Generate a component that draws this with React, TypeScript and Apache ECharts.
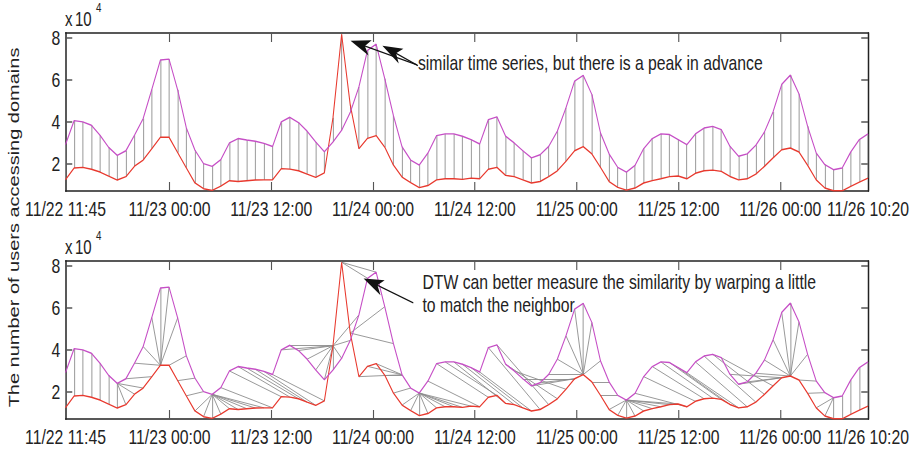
import React, { useEffect, useRef } from "react";
import * as echarts from "echarts";

// ---------- data (x 10^4 users), one sample per step from 11/22 11:45 to 11/26 10:20 ----------
const PURPLE = [
  2.92, 4.06, 4.0, 3.84, 3.37, 2.79, 2.41, 2.63, 3.37, 4.16,
  5.54, 6.94, 6.98, 5.52, 3.72, 2.66, 2.02, 1.89, 2.21, 3.0,
  3.21, 3.14, 3.08, 2.98, 2.83, 4.0, 4.22, 3.97, 3.56, 3.05,
  2.58, 3.05, 3.6, 4.45, 5.66, 7.4, 7.69, 6.05, 4.3, 2.82,
  2.19, 1.95, 2.52, 3.35, 3.43, 3.43, 3.32, 3.16, 2.95, 4.11,
  4.24, 3.32, 3.0, 2.63, 2.29, 2.44, 2.84, 3.56, 4.67, 5.94,
  6.21, 5.3, 3.48, 2.48, 1.84, 1.62, 1.94, 2.73, 3.21, 3.43,
  3.4, 3.16, 2.92, 3.43, 3.71, 3.79, 3.63, 2.84, 2.37, 2.48,
  2.89, 3.52, 4.48, 5.78, 6.22, 5.33, 3.79, 2.52, 1.97, 1.73,
  1.81, 2.57, 3.16, 3.43,
];
const RED = [
  1.25, 1.81, 1.84, 1.75, 1.62, 1.43, 1.24, 1.4, 1.9, 2.19,
  2.73, 3.27, 3.27, 2.54, 1.82, 1.1, 0.83, 0.75, 0.95, 1.21,
  1.17, 1.21, 1.24, 1.25, 1.25, 1.78, 1.76, 1.68, 1.52, 1.37,
  1.58, 4.2, 8.16, 4.8, 2.73, 3.22, 3.35, 2.8, 1.95, 1.38,
  1.12, 0.88, 0.98, 1.25, 1.3, 1.3, 1.27, 1.33, 1.3, 1.75,
  1.84, 1.46, 1.4, 1.25, 1.1, 1.17, 1.4, 1.68, 2.13, 2.63,
  2.83, 2.48, 1.84, 1.17, 0.89, 0.76, 0.86, 1.1, 1.21, 1.3,
  1.4, 1.43, 1.3, 1.56, 1.68, 1.71, 1.65, 1.41, 1.25, 1.3,
  1.52, 1.89, 2.29, 2.68, 2.76, 2.57, 1.94, 1.25, 0.86, 0.73,
  0.73, 0.94, 1.14, 1.33,
];

// hours counted from 11/22 00:00
const START_H = 11.75;
const END_H = 106 + 20 / 60;
const TICK_HOURS = [11.75, 24, 36, 48, 60, 72, 84, 96, 106 + 20 / 60];
const TICK_LABELS = [
  "11/22 11:45", "11/23 00:00", "11/23 12:00", "11/24 00:00", "11/24 12:00",
  "11/25 00:00", "11/25 12:00", "11/26 00:00", "11/26 10:20",
];
const Y_TICKS = [2, 4, 6, 8];
const Y_MIN = 0.72;
const Y_MAX = 8.22;
const DTW_WINDOW = 6; // warping band, in samples

const Y_TITLE = "The number of users accessing domains";
const NOTE_TOP = "similar time series, but there is a peak in advance";
const NOTE_BOTTOM_1 = "DTW can better measure the similarity by warping a little";
const NOTE_BOTTOM_2 = "to match the neighbor";

// annotation arrows: [tail, head] in data coordinates (hours, x10^4)
const ARROWS_TOP = [
  [[53.18, 6.71], [46.5, 7.68]],
  [[53.29, 6.67], [50.2, 7.37]],
];
const ARROWS_BOTTOM = [[[52.74, 6.23], [48.0, 7.17]]];

// ---------- helpers ----------
const STEP = (END_H - START_H) / (PURPLE.length - 1);
const TIMES = PURPLE.map((_, i) => START_H + i * STEP);

function dtwPath(a: number[], b: number[], w: number): [number, number][] {
  const n = a.length;
  const m = b.length;
  const D: number[][] = Array.from({ length: n }, () => new Array(m).fill(Infinity));
  for (let i = 0; i < n; i++) {
    for (let j = Math.max(0, i - w); j <= Math.min(m - 1, i + w); j++) {
      const c = Math.abs(a[i] - b[j]);
      if (i === 0 && j === 0) {
        D[i][j] = c;
        continue;
      }
      const up = i > 0 ? D[i - 1][j] : Infinity;
      const left = j > 0 ? D[i][j - 1] : Infinity;
      const diag = i > 0 && j > 0 ? D[i - 1][j - 1] : Infinity;
      D[i][j] = c + Math.min(up, left, diag);
    }
  }
  let i = n - 1;
  let j = m - 1;
  const path: [number, number][] = [[i, j]];
  while (i > 0 || j > 0) {
    if (i === 0) j--;
    else if (j === 0) i--;
    else {
      const diag = D[i - 1][j - 1];
      const up = D[i - 1][j];
      const left = D[i][j - 1];
      if (diag <= up && diag <= left) {
        i--;
        j--;
      } else if (up <= left) i--;
      else j--;
    }
    path.push([i, j]);
  }
  return path.reverse();
}

const S = 0.75; // horizontal squash of the reference figure
const W = 915 / S;
const H = 452;
const U = (px: number) => px / S;
const FONT = "'Liberation Sans', Arial, Helvetica, sans-serif";
const TXT = "#222";
const PURPLE_C = "#c64fc6";
const RED_C = "#e8392e";

function xLabel(v: number) {
  const k = TICK_HOURS.findIndex((h) => Math.abs(h - v) < 1e-3);
  return k >= 0 ? TICK_LABELS[k] : "";
}

export default function App() {
  const ref = useRef<HTMLDivElement>(null);
  useEffect(() => {
    if (!ref.current) return;
    const chart = echarts.init(ref.current, null, { renderer: "svg" });

    const grids = [
      { left: U(65.5), right: W - U(868), top: 33, height: 158 },
      { left: U(65.5), right: W - U(868), top: 261, height: 158 },
    ];

    const xAxes: any[] = [];
    const yAxes: any[] = [];
    grids.forEach((_, g) => {
      const base = {
        gridIndex: g,
        type: "value",
        splitLine: { show: false },
      };
      const xt = {
        show: true,
        inside: true,
        length: 9,
        customValues: TICK_HOURS.slice(1, -1),
        lineStyle: { color: "#555", width: 1.5 },
      };
      const yt = {
        show: true,
        inside: true,
        length: 9,
        customValues: Y_TICKS,
        lineStyle: { color: "#555", width: 1.5 },
      };
      xAxes.push({
        ...base,
        min: START_H,
        max: END_H,
        position: "bottom",
        axisLine: { show: true, onZero: false, lineStyle: { color: TXT, width: 1.5 } },
        axisTick: xt,
        axisLabel: {
          customValues: TICK_HOURS,
          formatter: xLabel,
          fontSize: 21,
          fontFamily: FONT,
          color: TXT,
          margin: 7,
        },
      });
      xAxes.push({
        ...base,
        min: START_H,
        max: END_H,
        position: "top",
        axisLine: { show: true, onZero: false, lineStyle: { color: TXT, width: 1.5 } },
        axisTick: xt,
        axisLabel: { show: false },
      });
      yAxes.push({
        ...base,
        min: Y_MIN,
        max: Y_MAX,
        position: "left",
        axisLine: { show: true, onZero: false, lineStyle: { color: TXT, width: 2 } },
        axisTick: yt,
        axisLabel: {
          customValues: Y_TICKS,
          fontSize: 21,
          fontFamily: FONT,
          color: TXT,
          margin: 7,
        },
      });
      yAxes.push({
        ...base,
        min: Y_MIN,
        max: Y_MAX,
        position: "right",
        axisLine: { show: true, onZero: false, lineStyle: { color: TXT, width: 2 } },
        axisTick: yt,
        axisLabel: { show: false },
      });
    });

    const purpleData = PURPLE.map((v, i) => [TIMES[i], v]);
    const redData = RED.map((v, i) => [TIMES[i], v]);

    const straightPairs: [number, number][] = PURPLE.map((_, i) => [i, i]);
    const warpPairs = dtwPath(PURPLE, RED, DTW_WINDOW);
    const toLines = (pairs: [number, number][]) =>
      pairs.map(([i, j]) => ({ coords: [[TIMES[i], PURPLE[i]], [TIMES[j], RED[j]]] }));

    const arrowSymbol = "path://M8,0 L16,26 L8,19 L0,26 Z";
    const markArrows = (arrows: number[][][]) => ({
      silent: true,
      symbol: ["none", arrowSymbol],
      symbolSize: [16, 27],
      label: { show: false },
      lineStyle: { color: "#111", width: 1.2, type: "solid" },
      itemStyle: { color: "#111" },
      emphasis: { disabled: true },
      data: arrows.map(([a, b]) => [{ coord: a }, { coord: b }]),
    });

    const series: any[] = [];
    [straightPairs, warpPairs].forEach((pairs, g) => {
      series.push({
        type: "lines",
        coordinateSystem: "cartesian2d",
        xAxisIndex: 2 * g,
        yAxisIndex: 2 * g,
        data: toLines(pairs),
        lineStyle: { color: "#8a8a8a", width: 1, opacity: 1 },
        silent: true,
        z: 1,
      });
      series.push({
        type: "line",
        xAxisIndex: 2 * g,
        yAxisIndex: 2 * g,
        data: purpleData,
        showSymbol: false,
        lineStyle: { color: PURPLE_C, width: 1.4 },
        itemStyle: { color: PURPLE_C },
        silent: true,
        z: 3,
        markLine: markArrows(g === 0 ? ARROWS_TOP : ARROWS_BOTTOM),
      });
      series.push({
        type: "line",
        xAxisIndex: 2 * g,
        yAxisIndex: 2 * g,
        data: redData,
        showSymbol: false,
        lineStyle: { color: RED_C, width: 1.4 },
        itemStyle: { color: RED_C },
        silent: true,
        z: 2,
      });
    });

    const txt = (text: string, x: number, y: number, size: number, extra: any = {}) => ({
      type: "text",
      x,
      y,
      silent: true,
      ...extra,
      style: {
        text,
        fontSize: size,
        fontFamily: FONT,
        fill: TXT,
        align: "left",
        verticalAlign: "middle",
        ...(extra.style || {}),
      },
    });

    const graphic: any[] = [
      txt(Y_TITLE, U(13.5), 227.5, 20, {
        rotation: Math.PI / 2,
        style: { align: "center", verticalAlign: "middle" },
      }),
      txt("x", U(65), 19, 20),
      txt("10", U(75), 19, 20),
      txt("4", U(96), 7.5, 13),
      txt("x", U(65), 247, 20),
      txt("10", U(75), 247, 20),
      txt("4", U(96), 235.5, 13),
      txt(NOTE_TOP, U(418), 63, 21),
      txt(NOTE_BOTTOM_1, U(422.5), 281.5, 21),
      txt(NOTE_BOTTOM_2, U(422.5), 305, 21),
    ];

    chart.setOption({
      animation: false,
      backgroundColor: "#fff",
      grid: grids,
      xAxis: xAxes,
      yAxis: yAxes,
      series,
      graphic,
    });
    return () => chart.dispose();
  }, []);

  return (
    <div
      style={{
        position: "fixed",
        left: 0,
        top: 0,
        width: 915,
        height: 452,
        overflow: "hidden",
        background: "#fff",
      }}
    >
      <div
        ref={ref}
        style={{
          width: W,
          height: H,
          transform: `scaleX(${S})`,
          transformOrigin: "0 0",
        }}
      />
    </div>
  );
}
